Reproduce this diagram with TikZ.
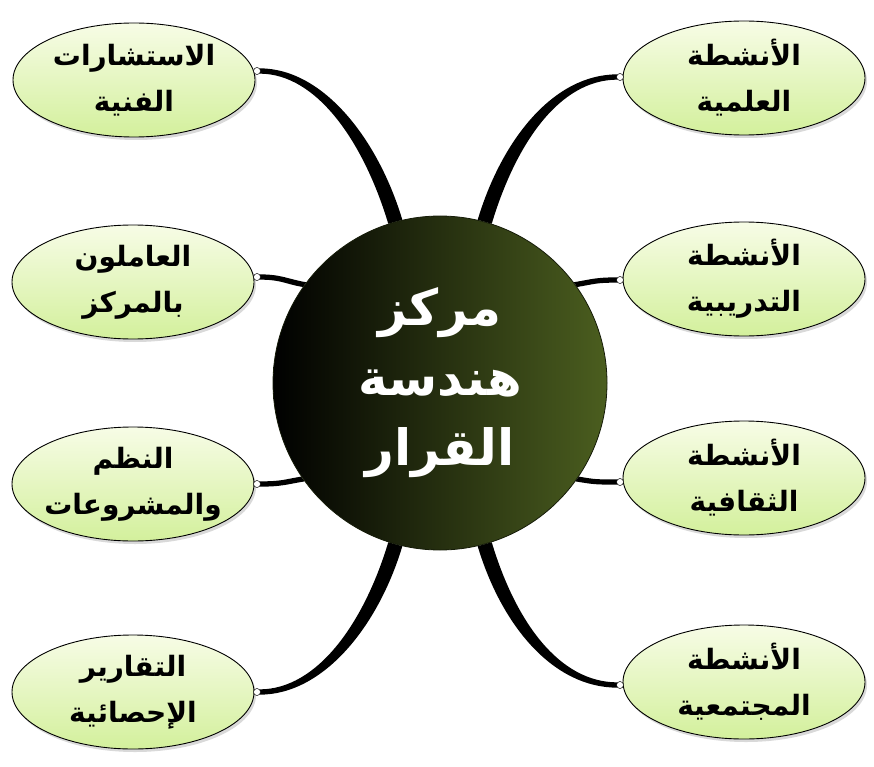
\documentclass[tikz,border=0pt]{standalone}
\usepackage{fontspec}
\newfontfamily\arabicfont[Script=Arabic]{DejaVu Sans}
\TeXXeTstate=1
\usetikzlibrary{shapes.geometric,shadows,calc}
\definecolor{olivedark}{HTML}{4B5E1F}
\definecolor{elltop}{HTML}{F7FCE6}
\definecolor{ellbot}{HTML}{D3F09C}
\newcommand\arline[1]{\makebox[0pt]{\beginR #1\endR}}
\pgfdeclarelayer{bg}
\pgfsetlayers{bg,main}
\begin{document}
\begin{tikzpicture}[x=1pt,y=-1pt,
  bubble/.style={ellipse, draw=black, line width=0.9pt, top color=elltop, bottom color=ellbot,
    minimum width=242pt, minimum height=114pt, inner sep=0pt,
    font=\arabicfont\bfseries\fontsize{28}{46}\selectfont, align=center,
    drop shadow={opacity=0.3, shadow xshift=2pt, shadow yshift=-3pt}},
  hub/.style={circle, left color=black, right color=olivedark, draw=black!70!olivedark, line width=0.8pt,
    minimum size=334pt, inner sep=0pt, text=white, align=center,
    font=\arabicfont\bfseries\fontsize{50}{70}\selectfont},
  knob/.style={circle, draw=black, fill=white, line width=0.5pt, minimum size=7pt, inner sep=0pt},
  conn/.style={fill=black}
]
\useasboundingbox (0,0) rectangle (874,767);

\node[hub] (c) at (440,383) {\beginR مركز\endR\\\beginR هندسة\endR\\\beginR القرار\endR};

\node[bubble] (b1) at (134,80)  {\arline{الاستشارات}\\\arline{الفنية}};
\node[bubble] (b2) at (133,282) {\arline{العاملون}\\\arline{بالمركز}};
\node[bubble] (b3) at (133,484) {\arline{النظم}\\\arline{والمشروعات}};
\node[bubble] (b4) at (133,692) {\arline{التقارير}\\\arline{الإحصائية}};
\node[bubble] (b5) at (744,78)  {\arline{الأنشطة}\\\arline{العلمية}};
\node[bubble] (b6) at (744,279) {\arline{الأنشطة}\\\arline{التدريبية}};
\node[bubble] (b7) at (744,478) {\arline{الأنشطة}\\\arline{الثقافية}};
\node[bubble] (b8) at (744,682) {\arline{الأنشطة}\\\arline{المجتمعية}};

\node[knob] (k1) at (257,71)  {};
\node[knob] (k2) at (257,277) {};
\node[knob] (k3) at (257,484) {};
\node[knob] (k4) at (257,692) {};
\node[knob] (k5) at (620,77)  {};
\node[knob] (k6) at (620,280) {};
\node[knob] (k7) at (620,482) {};
\node[knob] (k8) at (620,685) {};

\begin{pgfonlayer}{bg}
\fill[conn] (k1.45) .. controls +(64,0) and +(-24,-80) .. (c.103) -- (c.108) .. controls +(-24,-80) and +(58,0) .. (k1.-45) -- cycle;
\fill[conn] (k5.135) .. controls +(-64,0) and +(24,-80) .. (c.77) -- (c.72) .. controls +(24,-80) and +(-58,0) .. (k5.225) -- cycle;
\fill[conn] (k4.-45) .. controls +(64,0) and +(-24,80) .. (c.257) -- (c.252) .. controls +(-24,80) and +(58,0) .. (k4.45) -- cycle;
\fill[conn] (k8.225) .. controls +(-64,0) and +(24,80) .. (c.283) -- (c.288) .. controls +(24,80) and +(-58,0) .. (k8.135) -- cycle;
\fill[conn] (k2.45) .. controls +(22,0) and +(-18,-3) .. (c.143) -- (c.145) .. controls +(-18,-3) and +(22,0) .. (k2.-45) -- cycle;
\fill[conn] (k3.45) .. controls +(22,0) and +(-18,3) .. (c.214) -- (c.216) .. controls +(-18,3) and +(22,0) .. (k3.-45) -- cycle;
\fill[conn] (k6.135) .. controls +(-22,0) and +(18,-3) .. (c.37) -- (c.35) .. controls +(18,-3) and +(-22,0) .. (k6.225) -- cycle;
\fill[conn] (k7.135) .. controls +(-22,0) and +(18,3) .. (c.326) -- (c.324) .. controls +(18,3) and +(-22,0) .. (k7.225) -- cycle;
\end{pgfonlayer}
\end{tikzpicture}
\end{document}
